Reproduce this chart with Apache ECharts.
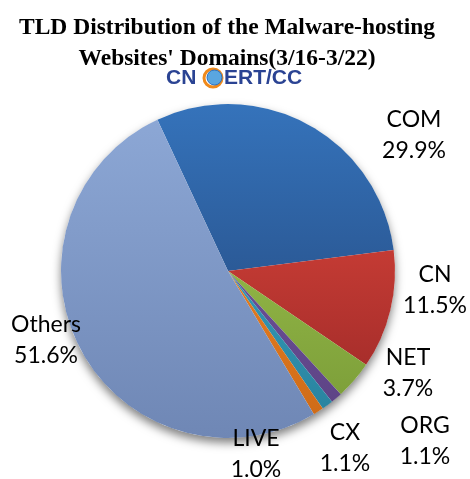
<!DOCTYPE html>
<html>
<head>
<meta charset="utf-8">
<script src="https://cdn.jsdelivr.net/npm/echarts@6/dist/echarts.min.js"></script>
<style>
  html, body { margin: 0; padding: 0; background: #ffffff; }
  #chart { width: 470px; height: 479px; }
</style>
</head>
<body>
<div id="chart"></div>
<script>
// 数据
const categories = ['COM', 'CN', 'NET', 'ORG', 'CX', 'LIVE', 'Others'];
const shares = [29.9, 11.5, 3.7, 1.1, 1.1, 1.0, 51.6];

// 每个扇区的渐变色 (上 -> 下)
const sliceColors = [
  ['#3573bb', '#2b5a97'],
  ['#c43b34', '#a82e2b'],
  ['#8fb345', '#7ea03a'],
  ['#6a4f96', '#5e4486'],
  ['#3298b6', '#2a84a0'],
  ['#e47c22', '#cf6c18'],
  ['#8ca7d5', '#6f87b5']
];

// 标签位置
const labelPos = {
  COM: [414, 135],
  CN: [435, 290],
  NET: [408, 373],
  ORG: [425, 441],
  CX: [345, 448],
  LIVE: [256, 454],
  Others: [46, 340]
};

const grad = (c) => ({
  type: 'linear', x: 0, y: 0, x2: 0, y2: 1,
  colorStops: [{offset: 0, color: c[0]}, {offset: 1, color: c[1]}]
});

const chart = echarts.init(document.getElementById('chart'));

const option = {
  backgroundColor: '#ffffff',
  animation: false,
  title: {
    text: 'TLD Distribution of the Malware-hosting\nWebsites\' Domains(3/16-3/22)',
    left: 222,
    textAlign: 'center',
    top: 7,
    textStyle: {
      fontFamily: 'Liberation Serif',
      fontWeight: 'bold',
      fontSize: 23.5,
      lineHeight: 31,
      color: '#000000'
    }
  },
  graphic: [
    {
      type: 'text', left: 166, top: 68,
      style: {text: 'CN', font: 'bold 21px "Liberation Sans"', fill: '#2a4393'}
    },
    {
      type: 'circle', shape: {cx: 213, cy: 78, r: 9},
      style: {fill: 'none', stroke: '#f08a1c', lineWidth: 3}
    },
    {
      type: 'circle', shape: {cx: 214.5, cy: 77.5, r: 7.5},
      style: {fill: '#5aa6e0', stroke: '#2a6fc0', lineWidth: 1}
    },
    {
      type: 'text', left: 224, top: 68,
      style: {text: 'ERT/CC', font: 'bold 21px "Liberation Sans"', fill: '#2a4393'}
    }
  ],
  series: [
    {
      // 阴影底层
      type: 'pie',
      silent: true,
      center: [228, 271],
      radius: 167,
      z: 1,
      label: {show: false},
      labelLine: {show: false},
      itemStyle: {
        color: '#ffffff',
        shadowBlur: 10,
        shadowOffsetY: 5,
        shadowColor: 'rgba(0,0,0,0.5)'
      },
      data: [{name: 'bg', value: 1}]
    },
    {
      name: 'TLD',
      type: 'pie',
      center: [228, 271],
      radius: 167,
      startAngle: 115,
      clockwise: true,
      z: 2,
      itemStyle: {borderWidth: 0},
      label: {
        show: true,
        position: 'inside',
        overflow: 'none',
        formatter: (p) => p.name + '\n' + p.value.toFixed(1) + '%',
        fontFamily: 'Lato',
        fontSize: 23,
        lineHeight: 31,
        color: '#000000'
      },
      labelLine: {show: false},
      labelLayout: (params) => {
        const pos = labelPos[categories[params.dataIndex]];
        return {x: pos[0], y: pos[1], align: 'center', verticalAlign: 'middle', rotate: 0};
      },
      data: categories.map((name, i) => ({
        name: name,
        value: shares[i],
        itemStyle: {color: grad(sliceColors[i])}
      }))
    }
  ]
};

chart.setOption(option);
</script>
</body>
</html>
